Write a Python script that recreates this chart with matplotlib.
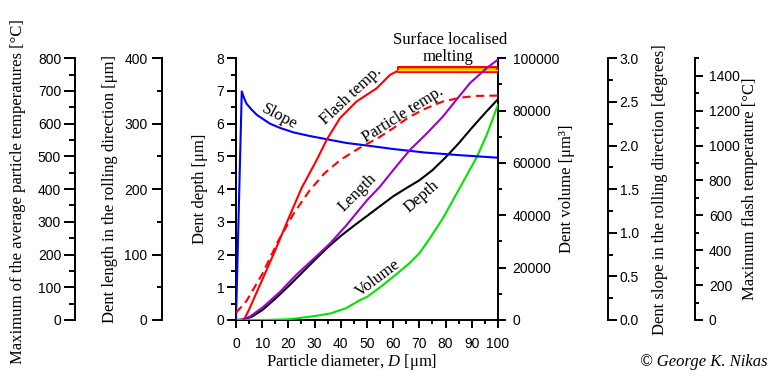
import matplotlib
matplotlib.use("Agg")
import matplotlib.pyplot as plt
from matplotlib.ticker import MultipleLocator, FormatStrFormatter

plt.rcParams['font.family'] = ['Liberation Sans', 'DejaVu Sans']
plt.rcParams['mathtext.fontset'] = 'custom'
plt.rcParams['mathtext.rm'] = 'Liberation Serif'
plt.rcParams['mathtext.it'] = 'Liberation Serif:italic'

# ---------------- data ----------------
depth_D = [0, 3, 6, 10, 15, 20, 25, 30, 35, 40, 45, 50, 55, 60, 65, 70, 75, 80, 85, 90, 95, 100]
depth_um = [0, 0.02, 0.1, 0.3, 0.65, 1.03, 1.43, 1.83, 2.22, 2.57, 2.88, 3.18, 3.48, 3.78, 4.03,
            4.27, 4.58, 4.97, 5.40, 5.87, 6.32, 6.75]

length_D = [3, 5.3, 10.4, 16.8, 23, 29.5, 35.9, 42.2, 50, 55, 60, 66.4, 72.8, 79, 83, 89.3, 95.7, 100]
length_um = [2, 5, 20, 43, 69, 93, 117, 145, 183, 204, 229, 260, 285, 311, 331, 362, 385, 398]

volume_D = [0, 10, 15, 20, 23, 30, 36, 42, 47.3, 50, 55, 60, 66, 70, 74, 79, 85, 92, 95.7, 100]
volume_um3 = [0, 0, 100, 300, 600, 1500, 2500, 4500, 7600, 8800, 12500, 16500, 21500, 25500,
              31200, 38900, 49700, 62400, 70700, 82200]

slope_D = [0, 2.2, 3, 4, 6, 8, 10, 13, 17, 22, 28, 35, 42, 50, 60, 72, 85, 100]
slope_deg = [0, 2.62, 2.55, 2.48, 2.41, 2.35, 2.31, 2.25, 2.20, 2.15, 2.11, 2.07, 2.03, 2.00,
             1.96, 1.92, 1.89, 1.86]

flash_D = [3, 5, 10, 15, 20, 25, 30.8, 34.6, 39.7, 46, 53.7, 58.8, 62]
flash_C = [0, 60, 230, 400, 580, 755, 917, 1032, 1157, 1252, 1328, 1405, 1430]

ptemp_D = [0, 4, 10, 16, 22, 28, 34, 40, 48, 54, 60, 66, 72, 79, 86, 92, 100]
ptemp_C = [22, 58, 140, 240, 325, 395, 450, 490, 530, 555, 586, 620, 645, 668, 680, 685, 686]

melt_D = [62, 99.7]
melt_lo = [1420, 1420]
melt_hi = [1450, 1450]
melt_mid = [1435, 1435]

# ---------------- figure ----------------
fig = plt.figure(figsize=(7.73, 3.77), dpi=100)
ax = fig.add_axes([0.3053, 0.1512, 0.3389, 0.6942])
ax.set_xlim(0, 100)
ax.set_ylim(0, 8)

SW = 1.4
LW = 1.5
serif = dict(family='Liberation Serif', size=12)

def style_spine_axis(a, side, pos, lo, hi, major, minor, tlen, tpad, fmt=None):
    for s in a.spines.values():
        s.set_visible(False)
    a.spines[side].set_visible(True)
    a.spines[side].set_position(('axes', pos))
    a.spines[side].set_linewidth(SW)
    a.set_ylim(lo, hi)
    if side == 'left':
        a.yaxis.set_ticks_position('left')
        a.yaxis.set_label_position('left')
    else:
        a.yaxis.set_ticks_position('right')
        a.yaxis.set_label_position('right')
    a.yaxis.set_major_locator(MultipleLocator(major))
    a.yaxis.set_minor_locator(MultipleLocator(minor))
    if fmt:
        a.yaxis.set_major_formatter(FormatStrFormatter(fmt))
    a.tick_params(axis='y', which='major', direction='out', length=tlen, width=SW, labelsize=10, pad=tpad)
    a.tick_params(axis='y', which='minor', direction='out', length=tlen * 0.5, width=SW)

# main axes
for s in ['top', 'right']:
    ax.spines[s].set_visible(False)
for s in ['left', 'bottom']:
    ax.spines[s].set_linewidth(SW)
ax.xaxis.set_major_locator(MultipleLocator(10))
ax.xaxis.set_minor_locator(MultipleLocator(5))
ax.yaxis.set_major_locator(MultipleLocator(1))
ax.yaxis.set_minor_locator(MultipleLocator(0.5))
ax.tick_params(axis='y', which='major', direction='out', length=6.5, width=SW, labelsize=10, pad=2)
ax.tick_params(axis='y', which='minor', direction='out', length=3.3, width=SW)
ax.tick_params(axis='x', which='major', direction='out', length=5.5, width=SW, labelsize=10, pad=7)
ax.tick_params(axis='x', which='minor', direction='out', length=3, width=SW)
ax.set_ylabel('Dent depth [μm]', **serif)
ax.yaxis.label.set_va('center')
ax.yaxis.set_label_coords(-0.137, 0.5)
ax.set_xlabel('Particle diameter, $D$ [μm]', **serif)
ax.xaxis.label.set_va('center')
ax.xaxis.set_label_coords(0.443, -0.162)

# twin axes
ax_vol = ax.twinx()
style_spine_axis(ax_vol, 'right', 1.0, 0, 100000, 20000, 10000, 5.5, 5)
ax_vol.set_ylabel('Dent volume [μm³]', **serif)
ax_vol.yaxis.label.set_va('center')
ax_vol.yaxis.set_label_coords(1.263, 0.5)

ax_slope = ax.twinx()
style_spine_axis(ax_slope, 'right', 1.4198, 0, 3.0, 0.5, 0.25, 6.5, 2, '%.1f')
ax_slope.set_ylabel('Dent slope in the rolling direction [degrees]', **serif)
ax_slope.yaxis.label.set_va('center')
ax_slope.yaxis.set_label_coords(1.618, 0.5)

ax_flash = ax.twinx()
style_spine_axis(ax_flash, 'right', 1.7519, 0, 1500, 200, 100, 6, 4)
ax_flash.set_ylabel('Maximum flash temperature [°C]', **serif)
ax_flash.yaxis.label.set_va('center')
ax_flash.yaxis.set_label_coords(1.962, 0.5)

ax_len = ax.twinx()
style_spine_axis(ax_len, 'left', -0.2824, 0, 400, 100, 50, 7.5, 3)
ax_len.set_ylabel('Dent length in the rolling direction [μm]', **serif)
ax_len.yaxis.label.set_va('center')
ax_len.yaxis.set_label_coords(-0.481, 0.5)

ax_pt = ax.twinx()
style_spine_axis(ax_pt, 'left', -0.6145, 0, 800, 100, 50, 8, 2)
ax_pt.set_ylabel('Maximum of the average particle temperatures [°C]', **serif)
ax_pt.yaxis.label.set_va('center')
ax_pt.yaxis.set_label_coords(-0.832, 0.49)

# ---------------- curves ----------------
ax_vol.plot(volume_D, volume_um3, color='#00E400', lw=LW, zorder=3)
ax.plot(depth_D, depth_um, color='black', lw=LW, zorder=3)
ax_len.plot(length_D, length_um, color='#9B00D0', lw=LW, zorder=3)
ax_pt.plot(ptemp_D, ptemp_C, color='#FF0000', lw=LW, ls=(0, (4, 2.5)), zorder=3)
ax_flash.plot(flash_D, flash_C, color='#FF0000', lw=LW, zorder=3)
ax_flash.fill_between(melt_D, melt_lo, melt_hi, facecolor='#FFA500', edgecolor='#FF0000', lw=1.5, zorder=4)
ax_flash.plot(melt_D, melt_mid, color='#FFE000', lw=1.0, zorder=5)
ax_slope.plot(slope_D, slope_deg, color='#0000FF', lw=LW, zorder=3)

# ---------------- annotations ----------------
def px_text(x, y, s, rot=0, **kw):
    fig.text(x / 773, 1 - y / 377, s, rotation=rot, ha='center', va='center',
             rotation_mode='anchor', **kw)

px_text(279, 117, 'Slope', -28, **serif)
px_text(351, 96, 'Flash temp.', 43, **serif)
px_text(403, 115, 'Particle temp.', 32, **serif)
px_text(357, 193, 'Length', 45, **serif)
px_text(422, 197, 'Depth', 41, **serif)
px_text(378, 278, 'Volume', 37, **serif)
px_text(450, 40, 'Surface localised', 0, **serif)
px_text(448, 57, 'melting', 0, **serif)
fig.text(768 / 773, 1 - 362 / 377, '© George K. Nikas', ha='right', va='center',
         family='Liberation Serif', style='italic', size=12)

fig.savefig('out.png', dpi=100)
